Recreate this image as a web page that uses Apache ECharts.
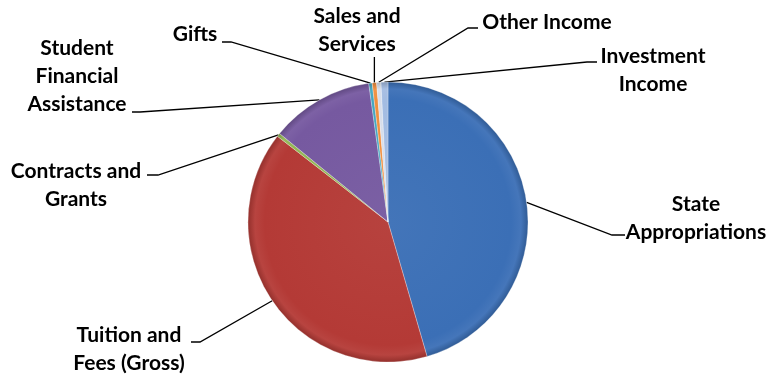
<!DOCTYPE html>
<html>
<head>
<meta charset="utf-8">
<script src="https://cdn.jsdelivr.net/npm/echarts@6/dist/echarts.min.js"></script>
<style>
html,body{margin:0;padding:0;background:#fff;}
#chart{width:770px;height:375px;}
</style>
</head>
<body>
<div id="chart"></div>
<script>
// ---- Data ----
var categories = [
  'State\nAppropriations',
  'Tuition and\nFees (Gross)',
  'Contracts and\nGrants',
  'Student\nFinancial\nAssistance',
  'Gifts',
  'Sales and\nServices',
  'Other Income',
  'Investment\nIncome'
];
var values = [45.5, 40.0, 0.4, 11.9, 0.4, 0.5, 0.5, 0.8];

// ---- Style ----
var baseColors = ['#3B6FB6', '#B43A36', '#93B656', '#7659A0', '#45A6C0', '#F08E3E', '#D6DDEA', '#A3BCE2'];
var CX = 388, CY = 222, R = 140;

function shade(hex, f) {
  var n = parseInt(hex.slice(1), 16);
  var r = (n >> 16) & 255, g = (n >> 8) & 255, b = n & 255;
  function adj(c) { return Math.max(0, Math.min(255, Math.round(f >= 0 ? c + (255 - c) * f : c * (1 + f)))); }
  return 'rgb(' + adj(r) + ',' + adj(g) + ',' + adj(b) + ')';
}
function grad(hex) {
  return {
    type: 'radial', x: CX, y: CY, r: R, global: true,
    colorStops: [
      { offset: 0, color: shade(hex, 0.04) },
      { offset: 0.88, color: hex },
      { offset: 0.95, color: shade(hex, 0.05) },
      { offset: 1, color: shade(hex, -0.18) }
    ]
  };
}

// label placement (text anchor, alignment, leader line end segment)
var labelPos = [
  { x: 696, y: 218, line: [[612, 235], [625, 235]] },
  { x: 129, y: 349, line: [[200, 342], [191, 342]] },
  { x: 76, y: 185, line: [[158, 175], [147, 175]] },
  { x: 77, y: 76, line: [[140, 112], [132, 112]] },
  { x: 195, y: 34, line: [[231, 42], [222, 42]] },
  { x: 357, y: 30, line: 'vertical', top: 57 },
  { x: 547, y: 22, line: [[468, 28], [478, 28]] },
  { x: 653, y: 70, line: [[587, 62], [597, 62]] }
];

var seriesData = categories.map(function (c, i) {
  return { name: c, value: values[i], itemStyle: { color: grad(baseColors[i]) } };
});

var chart = echarts.init(document.getElementById('chart'), null, { renderer: 'canvas' });
chart.setOption({
  animation: false,
  backgroundColor: '#ffffff',
  series: [{
    type: 'pie',
    center: [CX, CY],
    radius: R,
    startAngle: 90,
    clockwise: true,
    avoidLabelOverlap: false,
    data: seriesData,
    itemStyle: { borderColor: 'rgba(255,255,255,0.45)', borderWidth: 0.6 },
    label: {
      show: true,
      position: 'outside',
      color: '#000',
      fontFamily: 'Lato',
      fontWeight: 'bold',
      fontSize: 21,
      lineHeight: 28,
      align: 'center',
      formatter: function (p) { return p.name; }
    },
    labelLine: { show: true, length: 10, length2: 10, smooth: false, lineStyle: { color: '#000', width: 1.3 } },
    emphasis: { disabled: true },
    labelLayout: function (params) {
      var lp = labelPos[params.dataIndex];
      var p0 = params.labelLinePoints ? params.labelLinePoints[0] : [CX, CY - R];
      var pts;
      if (lp.line === 'vertical') {
        pts = [[p0[0], p0[1]], [p0[0], lp.top]];
      } else {
        pts = [[p0[0], p0[1]], lp.line[0], lp.line[1]];
      }
      return { x: lp.x, y: lp.y, align: 'center', verticalAlign: 'middle', labelLinePoints: pts };
    }
  }]
});
</script>
</body>
</html>
